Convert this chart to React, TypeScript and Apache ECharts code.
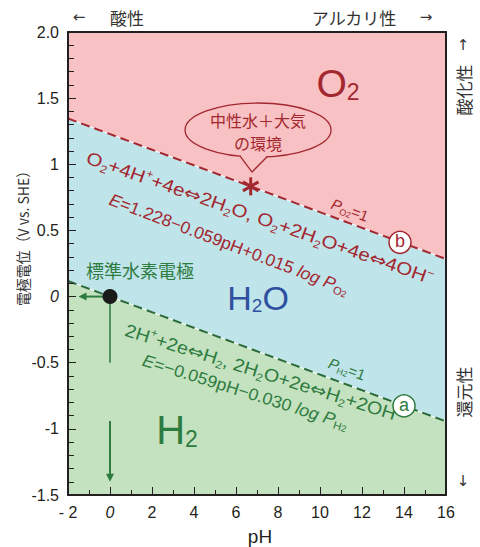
import React, { useEffect, useRef } from 'react';
import * as echarts from 'echarts';

// ---- axes ----
const xTicks = [-2, 0, 2, 4, 6, 8, 10, 12, 14, 16];
const xTickLabels = ['- 2', '0', '2', '4', '6', '8', '10', '12', '14', '16'];
const yTicks = [-1.5, -1, -0.5, 0, 0.5, 1, 1.5, 2];
const yTickLabels = ['-1.5', '-1', '-0.5', '0', '0.5', '1', '1.5', '2.0'];

// ---- boundary lines (pH, E) ----
const lineB = [[-2, 1.346], [16, 0.284]]; // O2 / H2O  (Po2 = 1)
const lineA = [[-2, 0.118], [16, -0.944]]; // H2O / H2  (PH2 = 1)
const eTop = 2.0;
const eBottom = -1.5;

// ---- regions ----
const regionNames = ['O2', 'H2O', 'H2'];
const regionColors = ['#f8c1c3', '#bfe4ea', '#c4e2bf'];

// ---- standard hydrogen electrode ----
const shePoint = [0, 0];
const sheLeftEnd = [-1.5, 0];
const sheDropEnd = [0, -0.5];
const sheArrowStart = [0, -0.94];
const sheArrowEnd = [0, -1.4];

// ---- neutral water + air point ----
const neutralPoint = [6.7, 0.833];

// ---- annotation anchors (pH, E) ----
const calloutCenter = [7.05, 1.259];
const posO2 = [10.86, 1.607];
const posH2O = [7.05, -0.01];
const posH2 = [3.19, -1.009];
const posSHE = [1.43, 0.201];
const posEqB1 = [7.14, 0.594];
const posEqB2 = [5.67, 0.397];
const posPO2 = [11.43, 0.655];
const posCircleB = [13.81, 0.41];
const posEqA1 = [7.33, -0.578];
const posEqA2 = [6.45, -0.72];
const posPH2 = [11.29, -0.547];
const posCircleA = [14.0, -0.826];

const RED = '#a3272f';
const GREEN = '#2e7b40';
const BLUE = '#2f4f9f';
const INK = '#231f20';
const LAT = 'Liberation Sans';
const CJK = 'Noto Sans CJK JP';

const eqB1 = '{n|O}{s|2}{n|+4H}{p|+}{n|+4e}{a|⇔}{n|2H}{s|2}{n|O, O}{s|2}{n|+2H}{s|2}{n|O+4e}{a|⇔}{n|4OH}{p|−}';
const eqB2 = '{i|E}{n|=1.228−0.059pH+0.015 }{i|log P}{s|O}{ss|2}';
const eqPO2 = '{i|P}{s|O}{ss|2}{n|=1}';
const eqA1 = '{n|2H}{p|+}{n|+2e}{a|⇔}{n|H}{s|2}{n|, 2H}{s|2}{n|O+2e}{a|⇔}{n|H}{s|2}{n|+2OH}{p|−}';
const eqA2 = '{i|E}{n|=−0.059pH−0.030 }{i|log P}{s|H}{ss|2}';
const eqPH2 = '{i|P}{s|H}{ss|2}{n|=1}';

function eqRich(color: string, fs: number) {
  return {
    n: { fill: color, fontSize: fs, fontFamily: LAT, lineHeight: fs + 4 },
    a: { fill: color, fontSize: fs, fontFamily: 'DejaVu Sans', lineHeight: fs + 4 },
    i: { fill: color, fontSize: fs, fontFamily: LAT, fontStyle: 'italic', lineHeight: fs + 4 },
    s: { fill: color, fontSize: Math.round(fs * 0.62), fontFamily: LAT, verticalAlign: 'bottom', lineHeight: fs * 0.62 },
    ss: { fill: color, fontSize: Math.round(fs * 0.5), fontFamily: LAT, verticalAlign: 'bottom', lineHeight: fs * 0.4 },
    p: { fill: color, fontSize: Math.round(fs * 0.6), fontFamily: LAT, verticalAlign: 'top', lineHeight: fs * 0.6 },
  };
}

function bigRich(color: string, fs: number, sfs: number) {
  return {
    b: { fill: color, fontSize: fs, fontFamily: LAT, lineHeight: fs },
    s: { fill: color, fontSize: sfs, fontFamily: LAT, verticalAlign: 'bottom', lineHeight: sfs * 0.85 },
  };
}

function renderRegions(params: any, api: any) {
  const i = params.dataIndex;
  const polys = [
    [[lineB[0][0], eTop], [lineB[1][0], eTop], lineB[1], lineB[0]],
    [lineB[0], lineB[1], lineA[1], lineA[0]],
    [lineA[0], lineA[1], [lineA[1][0], eBottom], [lineA[0][0], eBottom]],
  ];
  return {
    type: 'polygon',
    shape: { points: polys[i].map((p) => api.coord(p)) },
    style: { fill: regionColors[i], stroke: null },
  };
}

function renderAnnotations(params: any, api: any) {
  const c = (p: number[]) => api.coord(p);
  const b0 = c(lineB[0]);
  const b1 = c(lineB[1]);
  const lineAng = -Math.atan2(b1[1] - b0[1], b1[0] - b0[0]);
  const deg = Math.PI / 180;

  const txt = (p: number[], text: string, rich: any, rot: number, sx = 1) => {
    const q = c(p);
    return {
      type: 'text',
      x: q[0],
      y: q[1],
      rotation: rot,
      scaleX: sx,
      style: { text, rich, align: 'center', verticalAlign: 'middle' },
    };
  };

  const cc = c(calloutCenter);
  const rx = 73, ry = 27;
  const baseL = [cc[0] - 18, cc[1] + ry * Math.sqrt(1 - (18 / rx) ** 2)];
  const baseR = [cc[0] + 9, cc[1] + ry * Math.sqrt(1 - (9 / rx) ** 2)];
  const tip = [cc[0] - 6, cc[1] + 42];

  const np = c(neutralPoint);
  const star = [90, 30, 150].map((a) => ({
    type: 'line',
    shape: {
      x1: np[0] - 9 * Math.cos(a * deg), y1: np[1] - 9 * Math.sin(a * deg),
      x2: np[0] + 9 * Math.cos(a * deg), y2: np[1] + 9 * Math.sin(a * deg),
    },
    style: { stroke: RED, lineWidth: 3 },
  }));

  const circ = (p: number[], label: string, color: string) => {
    const q = c(p);
    return [
      { type: 'circle', shape: { cx: q[0], cy: q[1], r: 11 }, style: { fill: '#ffffff', stroke: color, lineWidth: 1.5 } },
      { type: 'text', x: q[0], y: q[1] - 1, style: { text: label, fill: color, fontSize: 18, fontFamily: LAT, align: 'center', verticalAlign: 'middle' } },
    ];
  };

  const sp = c(shePoint);
  const sl = c(sheLeftEnd);
  const sd = c(sheDropEnd);
  const sa0 = c(sheArrowStart);
  const sa1 = c(sheArrowEnd);

  return {
    type: 'group',
    children: [
      // callout
      { type: 'ellipse', shape: { cx: cc[0], cy: cc[1], rx, ry }, style: { fill: 'none', stroke: RED, lineWidth: 1.3 } },
      { type: 'polygon', shape: { points: [[baseL[0] + 1, baseL[1] - 3], [baseR[0] - 1, baseR[1] - 3], [baseR[0] - 1, baseR[1] + 3], [baseL[0] + 1, baseL[1] + 3]] }, style: { fill: regionColors[0] } },
      { type: 'polyline', shape: { points: [baseL, tip, baseR] }, style: { fill: 'none', stroke: RED, lineWidth: 1.3 } },
      { type: 'text', x: cc[0], y: cc[1] + 1, style: { text: '中性水＋大気\nの環境', fill: RED, fontSize: 16, lineHeight: 23, fontFamily: CJK, align: 'center', verticalAlign: 'middle' } },
      ...star,
      // region labels
      txt(posO2, '{b|O}{s|2}', bigRich(RED, 39, 23), 0),
      txt(posH2O, '{b|H}{s|2}{b|O}', bigRich(BLUE, 34, 19), 0),
      txt(posH2, '{b|H}{s|2}', bigRich(GREEN, 40, 23), 0),
      // equations
      txt(posEqB1, eqB1, eqRich(RED, 18), lineAng + 1 * deg, 1.14),
      txt(posEqB2, eqB2, eqRich(RED, 17), lineAng - 0.5 * deg, 1.03),
      txt(posPO2, eqPO2, eqRich(RED, 15), lineAng),
      txt(posEqA1, eqA1, eqRich(GREEN, 18), lineAng + 3 * deg, 1.09),
      txt(posEqA2, eqA2, eqRich(GREEN, 17), lineAng + 3 * deg, 1.05),
      txt(posPH2, eqPH2, eqRich(GREEN, 15), lineAng),
      ...circ(posCircleB, 'b', RED),
      ...circ(posCircleA, 'a', GREEN),
      // standard hydrogen electrode
      { type: 'text', x: c(posSHE)[0], y: c(posSHE)[1], style: { text: '標準水素電極', fill: GREEN, fontSize: 18, fontFamily: CJK, align: 'center', verticalAlign: 'middle' } },
      { type: 'line', shape: { x1: sp[0], y1: sp[1], x2: sl[0] + 6, y2: sl[1] }, style: { stroke: GREEN, lineWidth: 2 } },
      { type: 'polygon', shape: { points: [[sl[0], sl[1]], [sl[0] + 8, sl[1] - 4], [sl[0] + 8, sl[1] + 4]] }, style: { fill: GREEN } },
      { type: 'line', shape: { x1: sp[0], y1: sp[1], x2: sd[0], y2: sd[1] }, style: { stroke: GREEN, lineWidth: 1.5 } },
      { type: 'line', shape: { x1: sa0[0], y1: sa0[1], x2: sa1[0], y2: sa1[1] - 6 }, style: { stroke: GREEN, lineWidth: 2 } },
      { type: 'polygon', shape: { points: [[sa1[0], sa1[1]], [sa1[0] - 4, sa1[1] - 8], [sa1[0] + 4, sa1[1] - 8]] }, style: { fill: GREEN } },
      { type: 'circle', shape: { cx: sp[0], cy: sp[1], r: 7.5 }, style: { fill: '#1a1a1a' } },
    ],
  };
}

const sideText = (text: string, x: number, y: number, rot = 0, fs = 17, font = CJK, sx = 1) => ({
  type: 'text',
  x,
  y,
  rotation: rot,
  scaleX: sx,
  style: { text, fill: '#333', fontSize: fs, fontFamily: font, align: 'center', verticalAlign: 'middle' },
});

const option: any = {
  animation: false,
  backgroundColor: '#ffffff',
  grid: { left: 68, right: 34, top: 32, bottom: 52, containLabel: false },
  xAxis: [
    {
      type: 'value', min: -2, max: 16, interval: 2, z: 10,
      axisLine: { show: true, onZero: false, lineStyle: { color: INK, width: 2 } },
      axisTick: { show: true, inside: true, length: 8, lineStyle: { color: INK, width: 1 } },
      minorTick: { show: true, splitNumber: 2, length: 5, lineStyle: { color: INK, width: 1 } },
      splitLine: { show: false },
      axisLabel: {
        margin: 9, color: INK, fontSize: 16, fontFamily: LAT,
        formatter: (v: number) => {
          const k = xTicks.indexOf(v);
          const s = k >= 0 ? xTickLabels[k] : String(v);
          return v === 0 ? '{i|' + s + '}' : s;
        },
        rich: { i: { fontStyle: 'italic', fontSize: 16, fontFamily: LAT, color: INK } },
      },
    },
    {
      type: 'value', position: 'top', min: -2, max: 16, z: 10,
      axisLine: { show: true, onZero: false, lineStyle: { color: INK, width: 2 } },
      axisTick: { show: false }, axisLabel: { show: false }, splitLine: { show: false },
    },
  ],
  yAxis: [
    {
      type: 'value', min: -1.5, max: 2, interval: 0.5, z: 10,
      axisLine: { show: true, onZero: false, lineStyle: { color: INK, width: 2 } },
      axisTick: { show: true, inside: true, length: 8, lineStyle: { color: INK, width: 1 } },
      minorTick: { show: true, splitNumber: 5, length: 6, lineStyle: { color: INK, width: 1 } },
      splitLine: { show: false },
      axisLabel: {
        margin: 9, color: INK, fontSize: 16, fontFamily: LAT,
        formatter: (v: number) => {
          const k = yTicks.findIndex((t) => Math.abs(t - v) < 1e-9);
          const s = k >= 0 ? yTickLabels[k] : String(v);
          return Math.abs(v) < 1e-9 ? '{i|' + s + '}' : s;
        },
        rich: { i: { fontStyle: 'italic', fontSize: 16, fontFamily: LAT, color: INK } },
      },
    },
    {
      type: 'value', position: 'right', min: -1.5, max: 2, z: 10,
      axisLine: { show: true, onZero: false, lineStyle: { color: INK, width: 2 } },
      axisTick: { show: false }, axisLabel: { show: false }, splitLine: { show: false },
    },
  ],
  series: [
    {
      type: 'custom', name: 'regions', xAxisIndex: 0, yAxisIndex: 0, z: 1, silent: true, clip: true,
      renderItem: renderRegions,
      data: regionNames.map((n, i) => ({ name: n, value: [i, 0] })),
    },
    {
      type: 'line', name: 'B-white', data: lineB, showSymbol: false, z: 2, silent: true,
      lineStyle: { color: '#ffffff', width: 1, opacity: 0.9 },
    },
    {
      type: 'line', name: 'A-white', data: lineA, showSymbol: false, z: 2, silent: true,
      lineStyle: { color: '#ffffff', width: 1, opacity: 0.9 },
    },
    {
      type: 'line', name: 'PO2=1', data: lineB, showSymbol: false, z: 3, silent: true,
      lineStyle: { color: RED, width: 2, type: [9, 5] },
    },
    {
      type: 'line', name: 'PH2=1', data: lineA, showSymbol: false, z: 3, silent: true,
      lineStyle: { color: '#2a6a39', width: 2, type: [9, 5] },
    },
    {
      type: 'custom', name: 'annotations', z: 4, silent: true, clip: false,
      renderItem: renderAnnotations,
      data: [[0, 0]],
    },
  ],
  graphic: [
    sideText('←', 79, 17, 0, 15, 'DejaVu Sans'),
    { type: 'text', x: 110, y: 17, style: { text: '酸性', fill: '#333', fontSize: 17, fontFamily: CJK, align: 'left', verticalAlign: 'middle' } },
    sideText('アルカリ性', 354, 17),
    sideText('→', 426, 17, 0, 15, 'DejaVu Sans'),
    sideText('↑', 463, 45, 0, 15, 'DejaVu Sans'),
    sideText('酸化性', 463, 90, Math.PI / 2),
    sideText('還元性', 463, 392, Math.PI / 2),
    sideText('↓', 463, 481, 0, 15, 'DejaVu Sans'),
    sideText('電極電位（V vs. SHE）', 22, 235, Math.PI / 2, 15, CJK, 0.93),
    { type: 'text', x: 260, y: 536, style: { text: 'pH', fill: INK, fontSize: 19, fontFamily: LAT, align: 'center', verticalAlign: 'middle' } },
  ],
};

export default function App() {
  const ref = useRef<HTMLDivElement>(null);
  useEffect(() => {
    const chart = echarts.init(ref.current!, null, { renderer: 'svg' });
    chart.setOption(option);
    return () => chart.dispose();
  }, []);
  return (
    <div
      ref={ref}
      style={{ position: 'absolute', left: 0, top: 0, width: 480, height: 547, background: '#fff' }}
    />
  );
}
